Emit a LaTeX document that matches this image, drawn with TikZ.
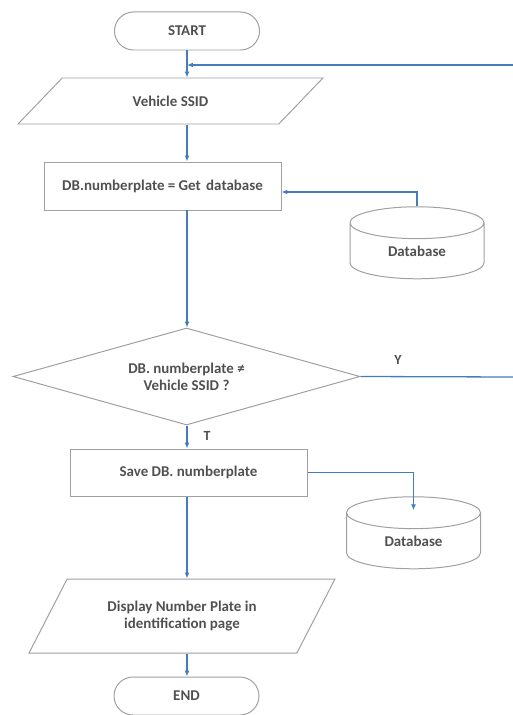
\documentclass[tikz,border=0pt]{standalone}
\usepackage{fontspec}
\setmainfont{Carlito}
\usetikzlibrary{shapes.geometric,arrows.meta}
\definecolor{flowblue}{RGB}{68,124,188}
\definecolor{boxgray}{RGB}{160,160,160}
\definecolor{textgray}{RGB}{80,80,80}

\tikzstyle{shape base}=[draw=boxgray,line width=1pt,text=textgray,font=\fontsize{15}{17}\selectfont\bfseries,inner sep=0pt]
\tikzstyle{terminal}=[shape base,rectangle,rounded corners=19bp,minimum width=145bp,minimum height=38bp]
\tikzstyle{io}=[shape base,trapezium,trapezium stretches=true,align=center]
\tikzstyle{process}=[shape base,rectangle,minimum width=237bp,minimum height=48bp]
\tikzstyle{decision}=[shape base,diamond,aspect=3.5,minimum width=347bp,minimum height=97bp,align=center]
\tikzstyle{database}=[shape base,cylinder,shape border rotate=90,aspect=0.55,minimum width=134bp,minimum height=72bp]
\tikzstyle{flow}=[draw,line width=1.3pt,flowblue,-{Latex[length=6pt,width=5pt]}]
\tikzstyle{flow label}=[text=textgray,font=\fontsize{14}{16}\selectfont\bfseries]

\begin{document}
\begin{tikzpicture}[x=1bp,y=-1bp]
			\useasboundingbox (0,0) rectangle (513,715);
			\node[terminal] (start) at (187,31) {START};
			\node[io,trapezium left angle=34.5,trapezium right angle=145.5,minimum width=305bp,minimum height=46bp] (vehicle) at (170.5,101) {Vehicle SSID};
			\node[process] (getdb) at (162.5,186) {DB.numberplate = Get\hspace{2bp} database};
			\node[database] (db1) at (417,251) {Database};
			\node[decision] (dec) at (186.5,376.5) {DB. numberplate ≠\\Vehicle SSID ?};
			\node[process,minimum height=47bp] (save) at (188.5,472.5) {Save DB. numberplate};
			\node[database] (db2) at (413.5,541) {Database};
			\node[io,trapezium left angle=50.5,trapezium right angle=129.5,minimum width=306bp,minimum height=74bp] (disp) at (182,616) {Display Number Plate in\\identification page};
			\node[terminal] (end) at (186.5,696) {END};
			\node[flow label] (ylabel) at (398,360) {Y};
			\node[flow label] (tlabel) at (207,436) {T};
			% Points on the main line and at the cut right edge
			\coordinate (spine) at (187,0);
			\coordinate (loopin) at (513,65);
			\coordinate (loopout) at (513,377);
			% Connect the steps down the main line
			\foreach \source/\dest in {start/vehicle, vehicle/getdb, getdb/dec, dec/save, save/disp, disp/end}
				\path[flow] (spine |- \source.south) -- (spine |- \dest.north);
			% Side links
			\path[flow] (loopin) -- (spine |- loopin);
			\path[flow] (db1.north) |- ([yshift=-6bp]getdb.east);
			\path[flow] (save.east) -| ([yshift=-14bp]db2.north);
			\path[flow,-] (dec.east) -- (loopout);
\end{tikzpicture}
\end{document}
